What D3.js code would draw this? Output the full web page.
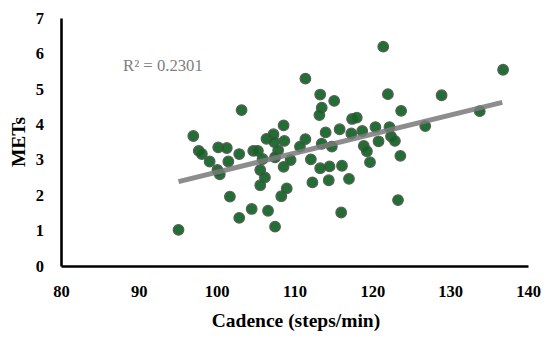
<!DOCTYPE html>
<html>
<head>
<meta charset="utf-8">
<script src="https://cdn.jsdelivr.net/npm/d3@7/dist/d3.min.js"></script>
<style>
  body{margin:0;background:#fff;}
  svg text{font-family:"Liberation Serif","DejaVu Serif",serif;}
</style>
</head>
<body>
<svg id="chart" width="550" height="339"></svg>
<script>
// cadence (steps/min) vs METs
const cadence=[95.1,97.0,97.7,98.1,99.1,100.2,101.3,101.5,102.9,100.1,100.4,103.2,104.7,105.3,105.9,
  105.6,106.2,106.4,107.3,107.4,108.6,108.7,107.9,107.5,108.6,109.5,101.7,102.9,104.5,106.6,107.5,
  105.6,108.3,109.0,111.4,113.3,115.1,113.5,113.2,122.0,117.4,118.0,121.4,136.8,128.9,123.7,133.8,
  126.8,115.8,114.0,120.4,122.2,117.3,118.7,111.4,113.5,114.8,122.4,122.9,120.8,118.9,119.3,110.7,
  112.1,123.6,119.7,113.3,114.5,116.1,112.3,114.4,117.0,123.3,116.0];
const mets=[1.02,3.67,3.25,3.16,2.95,3.35,3.33,2.95,3.16,2.71,2.59,4.40,3.25,3.25,3.02,
  2.71,2.50,3.59,3.72,3.50,3.97,3.53,3.27,3.07,2.80,2.99,1.96,1.36,1.61,1.56,1.11,
  2.28,1.97,2.19,5.29,4.84,4.66,4.47,4.26,4.85,4.15,4.19,6.19,5.54,4.82,4.38,4.37,
  3.95,3.86,3.77,3.92,3.92,3.74,3.81,3.58,3.45,3.37,3.66,3.53,3.52,3.39,3.24,3.37,
  3.01,3.11,2.93,2.76,2.81,2.83,2.36,2.42,2.46,1.86,1.51];

// linear trend line endpoints as drawn
const trendX=[95.1,136.7];
const trendY=[2.38,4.62];
const r2Label="R² = 0.2301";

const xTicks=[80,90,100,110,120,130,140];
const yTicks=[0,1,2,3,4,5,6,7];

const svg=d3.select("#chart");
const x=d3.scaleLinear().domain([80,140]).range([61,528]);
const y=d3.scaleLinear().domain([0,7]).range([266,18]);

// points
const pts=cadence.map((c,i)=>({c,m:mets[i]}));
svg.append("g").selectAll("circle").data(pts).join("circle")
  .attr("cx",d=>x(d.c)).attr("cy",d=>y(d.m)).attr("r",5.3)
  .attr("fill","#136425").attr("stroke","#4a554b").attr("stroke-width",1.2)
  .attr("opacity",0.93);

// trend line
svg.append("line")
  .attr("x1",x(trendX[0])).attr("y1",y(trendY[0]))
  .attr("x2",x(trendX[1])).attr("y2",y(trendY[1]))
  .attr("stroke","#7a7a7a").attr("stroke-width",5).attr("opacity",0.85);

svg.append("text").attr("x",123).attr("y",71)
  .attr("fill","#808080").style("font-size","16.7px")
  .text(r2Label);

// axes
const ax=svg.append("g").attr("transform",`translate(0,${y(0)})`)
  .call(d3.axisBottom(x).tickValues(xTicks).tickSize(0).tickPadding(19));
const ay=svg.append("g").attr("transform",`translate(${x(80)},0)`)
  .call(d3.axisLeft(y).tickValues(yTicks).tickFormat(d3.format("d")).tickSize(0).tickPadding(17));
[ax,ay].forEach(a=>{
  a.select(".domain").attr("stroke","#000").attr("stroke-width",2.6);
  a.selectAll("text").attr("fill","#000")
    .style("font-size","16.5px").style("font-weight","bold")
    .style("font-family","'Liberation Serif','DejaVu Serif',serif");
});

// axis titles
svg.append("text").attr("x",296).attr("y",327).attr("text-anchor","middle")
  .style("font-size","19.5px").style("font-weight","bold")
  .text("Cadence (steps/min)");
svg.append("text").attr("transform","translate(25,142) rotate(-90)")
  .attr("text-anchor","middle")
  .style("font-size","19.5px").style("font-weight","bold")
  .text("METs");
</script>
</body>
</html>
